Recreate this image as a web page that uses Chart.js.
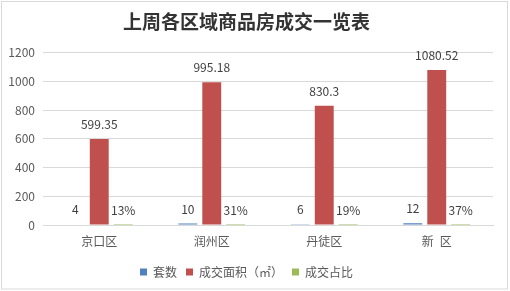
<!DOCTYPE html>
<html><head><meta charset="utf-8">
<script src="https://cdn.jsdelivr.net/npm/chart.js@4/dist/chart.umd.min.js"></script>
<style>html,body{margin:0;padding:0;background:#fff}#wrap{width:510px;height:291px}</style>
</head><body><div id="wrap"><canvas id="c" width="510" height="291"></canvas></div>
<script>
const categories = ['京口区', '润州区', '丹徒区', '新\u2002区'];
const units = [4, 10, 6, 12];
const area = [599.35, 995.18, 830.3, 1080.52];
const share = [0.13, 0.31, 0.19, 0.37];
const yTicks = [0, 200, 400, 600, 800, 1000, 1200];
const seriesNames = ['套数', '成交面积（㎡）', '成交占比'];

const FONT = "'Noto Sans CJK SC', 'Noto Sans', sans-serif";

const labelPlugin = {
  id: 'valueLabels',
  afterDatasetsDraw(chart) {
    const ctx = chart.ctx;
    ctx.save();
    ctx.font = '12px ' + FONT;
    ctx.fillStyle = '#404040';
    ctx.textAlign = 'center';
    ctx.textBaseline = 'middle';
    chart.data.datasets.forEach((ds, di) => {
      const meta = chart.getDatasetMeta(di);
      meta.data.forEach((el, i) => {
        const v = ds.data[i];
        const txt = di === 2 ? Math.round(v * 100) + '%' : String(v);
        ctx.fillText(txt, el.x, el.y - 14.5);
      });
    });
    ctx.restore();
  }
};
const borderPlugin = {
  id: 'frame',
  beforeDraw(chart) {
    const ctx = chart.ctx;
    ctx.save();
    ctx.fillStyle = '#fff';
    ctx.fillRect(0, 0, chart.width, chart.height);
    ctx.restore();
  },
  afterDraw(chart) {
    const ctx = chart.ctx;
    ctx.save();
    ctx.strokeStyle = '#d9d9d9';
    ctx.lineWidth = 1;
    ctx.strokeRect(1.5, 1.5, 506, 287.5);
    ctx.restore();
  }
};

new Chart(document.getElementById('c'), {
  type: 'bar',
  data: {
    labels: categories,
    datasets: [
      { label: seriesNames[0], data: units, backgroundColor: '#4f81bd' },
      { label: seriesNames[1], data: area, backgroundColor: '#c0504d' },
      { label: seriesNames[2], data: share, backgroundColor: '#9bbb59' }
    ]
  },
  options: {
    responsive: false,
    animation: false,
    devicePixelRatio: 1,
    categoryPercentage: 0.638,
    barPercentage: 0.79,
    layout: { padding: { left: 0, right: 17, top: 0, bottom: 3 } },
    plugins: {
      title: {
        display: true,
        text: '上周各区域商品房成交一览表',
        color: '#333333',
        font: { family: FONT, size: 19, weight: 'bold' },
        padding: { top: 10, bottom: 20 }
      },
      legend: {
        position: 'bottom',
        labels: {
          boxWidth: 7, boxHeight: 7, padding: 9,
          color: '#595959',
          font: { family: FONT, size: 12 }
        }
      },
      tooltip: { enabled: false }
    },
    scales: {
      x: {
        grid: { display: false, drawTicks: false },
        border: { color: '#d9d9d9' },
        ticks: { color: '#595959', font: { family: FONT, size: 12 }, padding: 9 },
        afterFit(s) { s.height = 32; }
      },
      y: {
        min: 0, max: 1200,
        afterBuildTicks(s) { s.ticks = yTicks.map(v => ({ value: v })); },
        grid: { color: '#d9d9d9', drawTicks: false },
        border: { display: false },
        ticks: { color: '#595959', font: { family: FONT, size: 12 }, padding: 8,
                 callback: (v) => String(v) },
        afterFit(s) { s.width = 43; }
      }
    }
  },
  plugins: [labelPlugin, borderPlugin]
});
</script>
</body></html>
